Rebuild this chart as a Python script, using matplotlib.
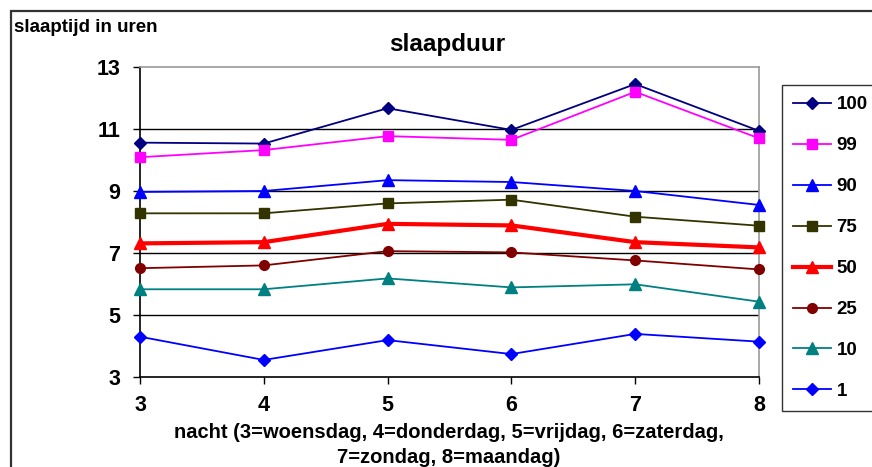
import matplotlib
matplotlib.use("Agg")
import matplotlib.pyplot as plt
from matplotlib.patches import Rectangle

# data
nights = [3, 4, 5, 6, 7, 8]
p100 = [10.56, 10.53, 11.67, 10.97, 12.45, 10.94]
p99 = [10.09, 10.32, 10.77, 10.65, 12.20, 10.70]
p90 = [8.97, 9.00, 9.35, 9.29, 9.00, 8.55]
p75 = [8.28, 8.28, 8.60, 8.72, 8.17, 7.88]
p50 = [7.31, 7.35, 7.94, 7.89, 7.35, 7.18]
p25 = [6.51, 6.60, 7.06, 7.02, 6.76, 6.47]
p10 = [5.83, 5.83, 6.18, 5.89, 5.99, 5.43]
p1 = [4.30, 3.55, 4.19, 3.74, 4.39, 4.14]

labels = ["100", "99", "90", "75", "50", "25", "10", "1"]
series = [p100, p99, p90, p75, p50, p25, p10, p1]
colors = ["#000080", "#FF00FF", "#0000FF", "#333300", "#FF0000", "#800000", "#008080", "#0000FF"]
markers = ["D", "s", "^", "s", "^", "o", "^", "D"]
widths = [1.3, 1.3, 1.3, 1.3, 3.0, 1.3, 1.3, 1.3]
msizes = [6, 7, 8, 7, 8, 7, 8, 6]

yticks = [3, 5, 7, 9, 11, 13]

plt.rcParams["font.family"] = ["Liberation Sans", "DejaVu Sans"]
plt.rcParams["font.weight"] = "bold"

W, H = 872, 467
fig = plt.figure(figsize=(W / 100, H / 100), dpi=100)

# outer frame of the chart area
fig.patches.append(Rectangle((11 / W, -0.1), 1.2, 1 - 11 / H + 0.1,
                             transform=fig.transFigure, fill=False,
                             edgecolor="#333333", linewidth=1.6))

ax = fig.add_axes([140 / W, 1 - 377 / H, (759 - 140) / W, (377 - 67) / H])

for vals, lab, c, m, lw, ms in zip(series, labels, colors, markers, widths, msizes):
    ax.plot(nights, vals, color=c, marker=m, linewidth=lw, markersize=ms,
            label=lab, clip_on=False, zorder=3)

ax.set_xlim(3, 8)
ax.set_ylim(3, 13)
ax.set_xticks(nights)
ax.set_yticks(yticks)
for y in yticks[1:-1]:
    ax.axhline(y, color="black", linewidth=1.0, zorder=1)

ax.tick_params(axis="both", direction="out", length=5, width=1, labelsize=15.5)
ax.tick_params(axis="x", pad=8)
ax.tick_params(axis="y", pad=9)
for lab in ax.get_xticklabels() + ax.get_yticklabels():
    lab.set_fontweight("bold")
ax.spines["left"].set_color("black")
ax.spines["bottom"].set_color("black")
ax.spines["top"].set_color("#999999")
ax.spines["right"].set_color("#999999")
for s in ax.spines.values():
    s.set_linewidth(1.2)

fig.text(447 / W, 1 - 44 / H, "slaapduur", ha="center", va="center",
         fontsize=17.5, fontweight="bold")
fig.text(14 / W, 1 - 27 / H, "slaaptijd in uren", ha="left", va="center",
         fontsize=13.5, fontweight="bold")
fig.text(449 / W, 1 - 445 / H,
         "nacht (3=woensdag, 4=donderdag, 5=vrijdag, 6=zaterdag,\n7=zondag, 8=maandag)",
         ha="center", va="center", fontsize=14.5, fontweight="bold", linespacing=1.45)

leg = fig.legend(loc="upper left", bbox_to_anchor=(782 / W, 1 - 85 / H),
                 frameon=True, fancybox=False, edgecolor="black",
                 prop={"size": 13.5, "weight": "bold"},
                 handlelength=2.0, handletextpad=0.3, labelspacing=1.27,
                 borderpad=0.6, borderaxespad=0)
leg.get_frame().set_linewidth(1.0)

fig.savefig("out.png", dpi=100)
